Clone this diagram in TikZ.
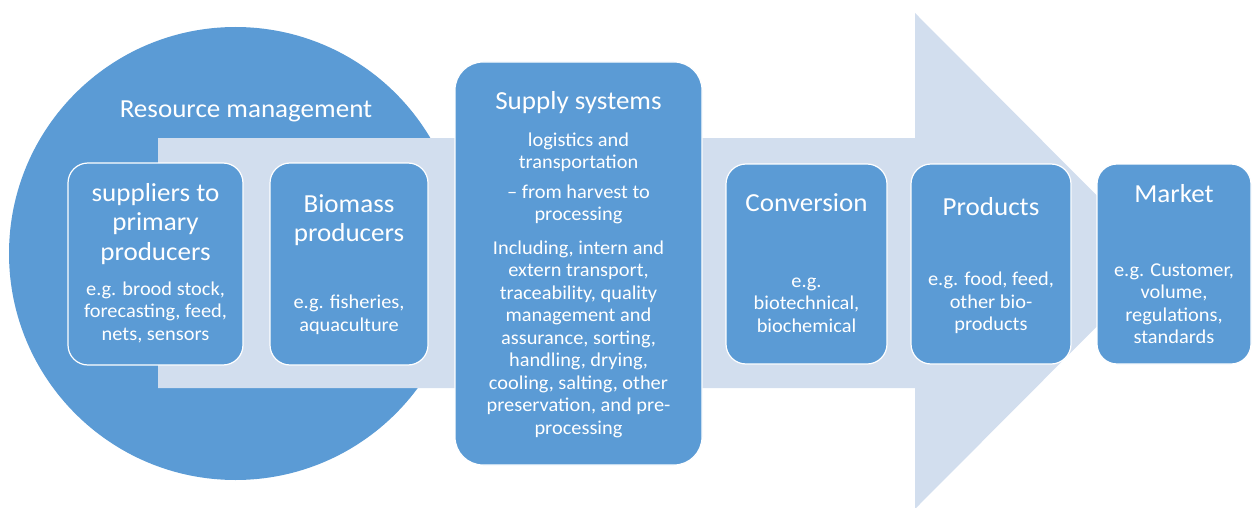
\documentclass[tikz,border=0pt]{standalone}
\usepackage{fontspec}
\setmainfont[FakeStretch=1.04]{Carlito}
\definecolor{mblue}{RGB}{91,155,213}
\definecolor{mlight}{RGB}{210,222,238}
\newcommand{\ttl}{\fontsize{26}{29.5}\selectfont}
\newcommand{\sml}{\fontsize{19.6}{22.5}\selectfont}
\begin{document}
\begin{tikzpicture}[x=1pt,y=-1pt,
  box/.style={fill=mblue,draw=white,line width=1.2pt,rounded corners=20pt},
  txt/.style={text=white,align=center,inner sep=0pt}]
\useasboundingbox (0,0) rectangle (1252,508);
% background circle
\fill[mblue] (235.5,253.5) circle[radius=226.5];
% big arrow
\fill[mlight] (158,138) -- (915,138) -- (915,13) -- (1162,261) -- (915,509) -- (915,388) -- (158,388) -- cycle;
% boxes
\draw[box] (68,163) rectangle (243,365);
\draw[box] (270,163) rectangle (428,365);
\draw[box,rounded corners=28pt] (455,62) rectangle (702,465);
\draw[box] (726,164) rectangle (887,364);
\draw[box] (911,164) rectangle (1071,364);
\draw[box] (1097,164) rectangle (1251,364);
% texts
\node[txt,font=\ttl] (rm) at (246,111) {Resource management};
\node[txt,font=\ttl] (sup) at (155.5,224) {suppliers to\\primary\\producers};
\node[txt,font=\sml] (supx) at (155.5,312) {e.g. brood stock,\\forecasting, feed,\\nets, sensors};
\node[txt,font=\ttl] (bio) at (349,220) {Biomass\\producers};
\node[txt,font=\sml] (biox) at (349,315) {e.g. fisheries,\\aquaculture};
\node[txt,font=\ttl] (ss) at (578.5,103) {Supply systems};
\node[txt,font=\sml] (ss1) at (578.5,152.5) {logistics and\\transportation};
\node[txt,font=\sml] (ss2) at (578.5,204.5) {– from harvest to\\processing};
\node[txt,font=\sml] (ss3) at (578.5,339) {Including, intern and\\extern transport,\\traceability, quality\\management and\\assurance, sorting,\\handling, drying,\\cooling, salting, other\\preservation, and pre-\\processing};
\node[txt,font=\ttl] (conv) at (806.5,203) {Conversion};
\node[txt,font=\sml] (convx) at (806.5,305) {e.g.\\biotechnical,\\biochemical};
\node[txt,font=\ttl] (prod) at (991,207) {Products};
\node[txt,font=\sml] (prodx) at (991,303) {e.g. food, feed,\\other bio-\\products};
\node[txt,font=\ttl] (mkt) at (1174,194) {Market};
\node[txt,font=\sml] (mktx) at (1174,303.5) {e.g. Customer,\\volume,\\regulations,\\standards};
\end{tikzpicture}
\end{document}
